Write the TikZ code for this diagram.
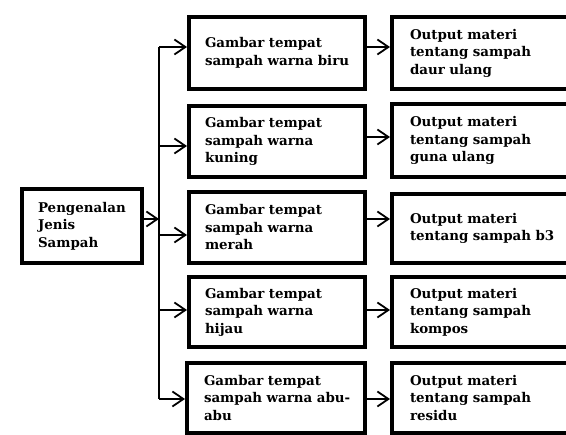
\documentclass[tikz,border=0pt]{standalone}
\usepackage{fontspec}
\setmainfont{DejaVu Serif}
\usetikzlibrary{arrows.meta}
\newcommand{\oneline}[1]{\mbox{#1}}
\begin{document}
\begin{tikzpicture}[x=1pt,y=-1pt,
  box/.style={draw=black,line width=4pt,anchor=north west,inner ysep=0pt,
    align=left,font=\fontsize{13.4}{17.5}\selectfont\bfseries},
  midbox/.style={box,minimum width=176pt,inner xsep=16pt,text width=144pt},
  outbox/.style={box,minimum width=220pt,inner xsep=18pt,text width=184pt},
  arr/.style={line width=1.8pt,-{Straight Barb[length=11pt,width=15pt,line width=1.8pt]}},
  trunk/.style={line width=1.8pt}]
\useasboundingbox (0,0) rectangle (566,435);
\clip (0,0) rectangle (566,435);
% left box
\node[box,minimum width=120pt,minimum height=74pt,inner xsep=16pt,text width=88pt] (lb) at (20,187)
  {\oneline{Pengenalan}\\Jenis\\Sampah};
% middle boxes
\node[midbox,minimum height=72pt] (m1) at (187,15) {\oneline{Gambar tempat}\\\oneline{sampah warna biru}};
\node[midbox,minimum height=71pt] (m2) at (187,104) {\oneline{Gambar tempat}\\\oneline{sampah warna}\\kuning};
\node[midbox,minimum height=71pt] (m3) at (187,190) {\oneline{Gambar tempat}\\\oneline{sampah warna}\\merah};
\node[midbox,minimum height=70pt] (m4) at (187,275) {\oneline{Gambar tempat}\\\oneline{sampah warna}\\hijau};
\node[midbox,minimum height=70pt,minimum width=178pt] (m5) at (185,361) {\oneline{Gambar tempat}\\\oneline{sampah warna abu-}\\abu};
% output boxes
\node[outbox,minimum height=72pt] (r1) at (390,15) {\oneline{Output materi}\\\oneline{tentang sampah}\\\oneline{daur ulang}};
\node[outbox,minimum height=73pt] (r2) at (390,102) {\oneline{Output materi}\\\oneline{tentang sampah}\\\oneline{guna ulang}};
\node[outbox,minimum height=69pt] (r3) at (390,192) {\oneline{Output materi}\\\oneline{tentang sampah b3}};
\node[outbox,minimum height=70pt] (r4) at (390,275) {\oneline{Output materi}\\\oneline{tentang sampah}\\kompos};
\node[outbox,minimum height=70pt] (r5) at (390,361) {\oneline{Output materi}\\\oneline{tentang sampah}\\residu};
% trunk coordinates
\coordinate (j) at (159,219);
\coordinate (t1) at (159,47);
\coordinate (t2) at (159,146);
\coordinate (t3) at (159,235);
\coordinate (t4) at (159,310);
\coordinate (t5) at (159,399);
\coordinate (u1) at (376,47);
\coordinate (u2) at (376,137);
\coordinate (u3) at (376,219);
\coordinate (u4) at (376,310);
\coordinate (u5) at (376,399);
% connectors
\draw[trunk] (t1) -- (t5);
\draw[arr] (lb.east |- j) -- (j);
\foreach \i in {1,...,5}{
  \draw[arr] (t\i) -- (m\i.west |- t\i);
  \draw[arr] (m\i.east |- u\i) -- (r\i.west |- u\i);
}
\end{tikzpicture}
\end{document}
